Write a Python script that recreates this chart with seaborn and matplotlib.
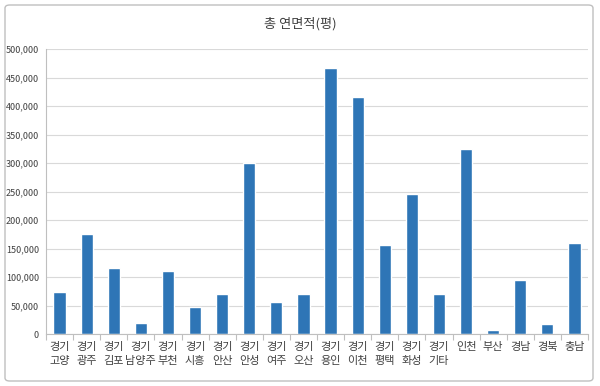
import matplotlib
matplotlib.use("Agg")
import matplotlib.pyplot as plt
import seaborn as sns
import pandas as pd
from matplotlib.patches import FancyBboxPatch
from matplotlib.ticker import FuncFormatter, MultipleLocator

categories = ["경기\n고양", "경기\n광주", "경기\n김포", "경기\n남양주", "경기\n부천", "경기\n시흥",
              "경기\n안산", "경기\n안성", "경기\n여주", "경기\n오산", "경기\n용인", "경기\n이천",
              "경기\n평택", "경기\n화성", "경기\n기타", "인천", "부산", "경남", "경북", "충남"]
values = [74000, 175000, 116000, 19000, 110000, 47000, 70000, 300000, 56000, 70000,
          466000, 415000, 156000, 245000, 70000, 325000, 7000, 95000, 17000, 160000]
title = "총 연면적(평)"

sns.set_theme(style="white")
plt.rcParams['font.family'] = ['Noto Sans CJK KR', 'DejaVu Sans']

df = pd.DataFrame({"cat": categories, "val": values})

fig = plt.figure(figsize=(6.0, 3.86), dpi=100)
ax = fig.add_axes([46/600, 1-334/386, 542/600, 285/386])

sns.barplot(data=df, x="cat", y="val", color="#2E75B6", width=0.45, ax=ax, saturation=1)

ax.set_ylim(0, 500000)
ax.yaxis.set_major_locator(MultipleLocator(50000))
ax.yaxis.set_major_formatter(FuncFormatter(lambda v, p: f"{int(v):,}"))
ax.set_xlim(-0.5, len(categories) - 0.5)
ax.grid(axis="y", color="#D9D9D9", linewidth=0.8)
ax.set_axisbelow(True)
ax.set_xlabel("")
ax.set_ylabel("")
for s in ["top", "right"]:
    ax.spines[s].set_visible(False)
ax.spines["left"].set_color("#BFBFBF")
ax.spines["bottom"].set_color("#BFBFBF")
ax.spines["left"].set_linewidth(0.8)
ax.spines["bottom"].set_linewidth(0.8)

ax.tick_params(axis="y", labelsize=6.5, colors="#404040", length=3, width=0.8, color="#BFBFBF", pad=2)
ax.set_xticks(range(len(categories)))
ax.set_xticklabels(categories, fontsize=8, color="#404040", linespacing=1.5, va="top")
ax.tick_params(axis="x", length=0, pad=6)
ax.set_xticks([i - 0.5 for i in range(len(categories) + 1)], minor=True)
ax.tick_params(axis="x", which="minor", length=4, width=0.8, color="#BFBFBF", bottom=True)

fig.text(0.5, 1 - 24/386, title, ha="center", va="center", fontsize=9.5, color="#404040")

border = FancyBboxPatch((5/600, 5/386), 588/600, 376/386, boxstyle="round,pad=0,rounding_size=0.008",
                        transform=fig.transFigure, fill=False, edgecolor="#BFBFBF", linewidth=1.0)
fig.patches.append(border)

fig.savefig("out.png", dpi=100)
